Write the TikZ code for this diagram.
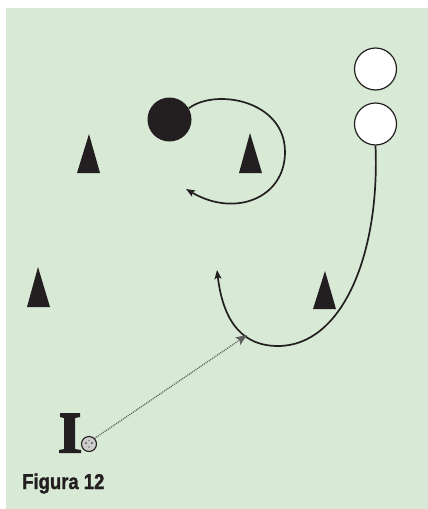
\documentclass[tikz,border=0pt]{standalone}
\usepackage{fontspec}
\setmainfont{Liberation Sans}
\newfontfamily\capfont[FakeBold=1.5]{Liberation Sans Bold}
\usetikzlibrary{arrows.meta}
\definecolor{bg}{RGB}{216,234,213}
\definecolor{ink}{RGB}{35,31,32}
\definecolor{dotgray}{RGB}{95,95,95}
\tikzset{
  cone/.style={fill=ink, draw=none},
  runline/.style={draw=ink, line width=1.7pt, -{Stealth[length=9pt,width=7pt,inset=2pt]}},
  player/.style={circle, draw=ink, line width=1.2pt, fill=white, minimum size=42pt, inner sep=0pt},
  opp/.style={circle, fill=ink, minimum size=44pt, inner sep=0pt},
  pass/.style={draw=dotgray, line width=1.3pt, dash pattern=on 1pt off 1pt, -{Stealth[length=11pt,width=9pt,inset=2pt,fill=dotgray]}}
}
\begin{document}
\begin{tikzpicture}[x=1pt,y=-1pt]
\useasboundingbox (0,0) rectangle (428,509);
\fill[bg] (6,8) rectangle (428,509);
% cones
\fill[cone] (89,134) -- (100,173) -- (77,173) -- cycle;
\fill[cone] (250,133) -- (262,173) -- (239,173) -- cycle;
\fill[cone] (38,267) -- (50,307) -- (27,307) -- cycle;
\fill[cone] (325,271) -- (336,309) -- (313,309) -- cycle;
% players
\node[player] (p1) at (375.5,69) {};
\node[player] (p2) at (375.5,124) {};
\node[opp] (o) at (169.5,119.5) {};
% runs
\coordinate (r1end) at (186,189);
\coordinate (r2end) at (217,270);
\draw[runline] (o.30) .. controls (215,88) and (285,100) .. (285,152)
  .. controls (285,198) and (235,218) .. (r1end);
\draw[runline] (p2.south) .. controls (380,255) and (342,346) .. (278,346)
  .. controls (236,346) and (222,312) .. (r2end);
% post
\fill[ink] (60,413) -- (80,413) -- (80,417) -- (75,418) -- (75,449) -- (81,450) -- (81,453)
  -- (59,453) -- (59,450) -- (64,449) -- (64,418) -- (60,417) -- cycle;
% ball
\node[circle, draw=ink, line width=1.1pt, fill=gray!40, minimum size=15pt, inner sep=0pt] (ball) at (89,444) {};
\fill[ink] (86,443) circle (0.8pt) (92,443) circle (0.8pt) (89,447) circle (0.6pt) (89,440.5) circle (0.5pt);
% pass
\coordinate (passend) at (247,335);
\draw[pass] (ball.45) -- (passend);
% caption
\node[anchor=base west, inner sep=0pt, text=ink] (cap) at (22,489)
  {\scalebox{0.86}[1]{\fontsize{21.5}{24}\selectfont\capfont Figura 12}};
\end{tikzpicture}
\end{document}
